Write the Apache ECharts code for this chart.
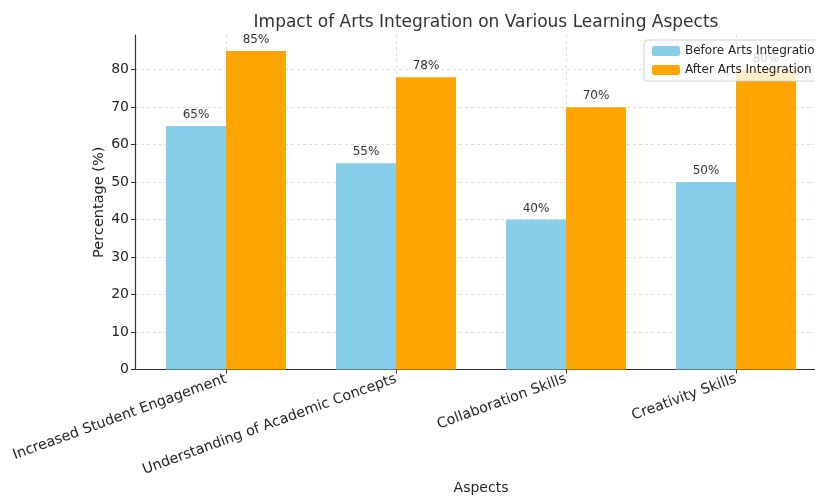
<!DOCTYPE html>
<html>
<head>
<meta charset="utf-8">
<script src="https://cdn.jsdelivr.net/npm/echarts@6/dist/echarts.min.js"></script>
<style>
  html, body { margin: 0; padding: 0; background: #fff; }
  #chart { width: 815px; height: 498px; }
</style>
</head>
<body>
<div id="chart"></div>
<script>
// Learning aspects measured and the share of students (%) before/after arts integration
const categories = [
  'Increased Student Engagement',
  'Understanding of Academic Concepts',
  'Collaboration Skills',
  'Creativity Skills'
];
const beforeValues = [65, 55, 40, 50];
const afterValues = [85, 78, 70, 80];
const yTicks = [0, 10, 20, 30, 40, 50, 60, 70, 80];

const FONT = 'DejaVu Sans';
const TEXT = '#262626';
const categoryIndex = categories.map((_, i) => i);

const chart = echarts.init(document.getElementById('chart'), null, { renderer: 'canvas' });

function barSeries(name, values, color) {
  return {
    name: name,
    type: 'bar',
    data: values.map((v, i) => [i, v]),
    barWidth: 60,
    barGap: '0%',
    itemStyle: { color: color },
    z: 2,
    label: {
      show: true,
      position: 'top',
      distance: 5,
      formatter: p => p.value[1] + '%',
      fontFamily: FONT,
      fontSize: 12,
      color: '#333'
    }
  };
}

const gridLine = { color: '#d6d6d6', type: [3, 3], width: 0.8 };

chart.setOption({
  animation: false,
  backgroundColor: '#fff',
  title: {
    text: 'Impact of Arts Integration on Various Learning Aspects',
    left: 481,
    top: 9,
    textAlign: 'center',
    textStyle: { fontFamily: FONT, fontSize: 17, fontWeight: 'normal', color: '#333' }
  },
  legend: {
    orient: 'vertical',
    left: 644,
    top: 40,
    itemWidth: 28,
    itemHeight: 10,
    itemGap: 7,
    padding: [5, 8, 5, 8],
    backgroundColor: 'rgba(255,255,255,0.8)',
    borderColor: '#d0d0d0',
    borderWidth: 1,
    borderRadius: 3,
    textStyle: { fontFamily: FONT, fontSize: 12, color: TEXT },
    z: 10
  },
  grid: {
    left: 135, top: 35, width: 692, bottom: 128.5,
    containLabel: false,
    outerBoundsMode: 'none'
  },
  xAxis: {
    type: 'value',
    min: -0.535,
    max: 3.535,
    name: 'Aspects',
    nameLocation: 'middle',
    nameGap: 112,
    nameMoveOverlap: false,
    nameTextStyle: { fontFamily: FONT, fontSize: 14, color: TEXT },
    axisLine: { show: true, onZero: false, lineStyle: { color: '#333', width: 1.2 } },
    axisTick: { show: true, customValues: categoryIndex, length: 4, lineStyle: { color: '#333' } },
    axisLabel: {
      customValues: categoryIndex,
      formatter: v => categories[Math.round(v)] || '',
      rotate: 20,
      margin: 9,
      fontFamily: FONT,
      fontSize: 14.3,
      color: TEXT
    },
    splitLine: { show: true, customValues: categoryIndex, lineStyle: gridLine }
  },
  yAxis: {
    type: 'value',
    min: 0,
    max: 89.25,
    interval: 10,
    name: 'Percentage (%)',
    nameLocation: 'middle',
    nameGap: 28,
    nameMoveOverlap: false,
    nameTextStyle: { fontFamily: FONT, fontSize: 14.5, color: TEXT },
    axisLine: { show: true, onZero: false, lineStyle: { color: '#333', width: 1.2 } },
    axisTick: { show: true, customValues: yTicks, length: 4, lineStyle: { color: '#333' } },
    axisLabel: {
      customValues: yTicks,
      fontFamily: FONT,
      fontSize: 14,
      color: TEXT,
      margin: 6
    },
    splitLine: { show: true, customValues: yTicks.slice(1), lineStyle: gridLine }
  },
  series: [
    barSeries('Before Arts Integration', beforeValues, '#87CEEB'),
    barSeries('After Arts Integration', afterValues, '#FFA500')
  ]
});
</script>
</body>
</html>
